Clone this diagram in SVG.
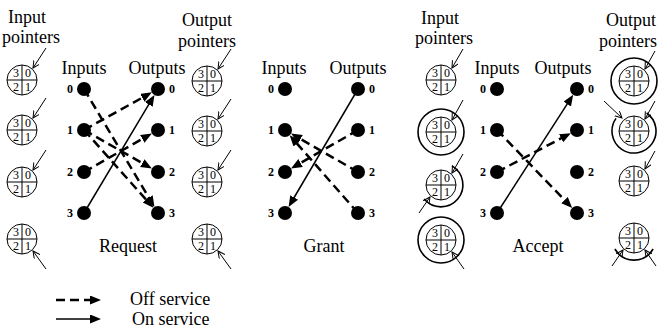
<svg xmlns="http://www.w3.org/2000/svg" width="658" height="334" viewBox="0 0 658 334">
<style>
.t{font-family:"Liberation Serif","Times New Roman",serif;font-size:18px;fill:#000}
.n{font-family:"Liberation Serif","Times New Roman",serif;font-size:12px;font-weight:bold;fill:#000}
.d{font-family:"Liberation Serif","Times New Roman",serif;font-size:12px;fill:#000}
.pc{fill:#fff;stroke:#000;stroke-width:1}
.x{stroke:#000;stroke-width:1}
.ring{fill:none;stroke:#000;stroke-width:1.6}
.dash{stroke:#000;stroke-width:2.5;stroke-dasharray:9 5;fill:none;marker-end:url(#ah)}
.solid{stroke:#000;stroke-width:1.5;fill:none;marker-end:url(#ah)}
.ptr{stroke:#000;stroke-width:1;fill:none;marker-end:url(#oa)}
.node{fill:#000}
</style>
<defs>
<marker id="ah" markerUnits="userSpaceOnUse" markerWidth="12" markerHeight="10" refX="7" refY="4.5" orient="auto"><path d="M0,0 L11,4.5 L0,9 z" fill="#000"/></marker>
<marker id="oa" markerUnits="userSpaceOnUse" markerWidth="10" markerHeight="8" refX="7" refY="3.5" orient="auto"><path d="M0,0 L7,3.5 L0,7" fill="none" stroke="#000" stroke-width="1"/></marker>
</defs>

<g id="labels">
<text class="t" x="27" y="23" text-anchor="middle">Input</text>
<text class="t" x="31" y="43" text-anchor="middle">pointers</text>
<text class="t" x="207" y="26" text-anchor="middle">Output</text>
<text class="t" x="207" y="47" text-anchor="middle">pointers</text>
<text class="t" x="84" y="74" text-anchor="middle">Inputs</text>
<text class="t" x="157" y="74" text-anchor="middle">Outputs</text>
<text class="t" x="128" y="252" text-anchor="middle">Request</text>
<text class="t" x="284" y="74" text-anchor="middle">Inputs</text>
<text class="t" x="358" y="74" text-anchor="middle">Outputs</text>
<text class="t" x="324" y="252" text-anchor="middle">Grant</text>
<text class="t" x="440" y="24" text-anchor="middle">Input</text>
<text class="t" x="444" y="44" text-anchor="middle">pointers</text>
<text class="t" x="606" y="26">Output</text>
<text class="t" x="599" y="47">pointers</text>
<text class="t" x="497" y="74" text-anchor="middle">Inputs</text>
<text class="t" x="563" y="74" text-anchor="middle">Outputs</text>
<text class="t" x="538" y="252" text-anchor="middle">Accept</text>
</g>

<g id="connectors">
<line class="dash" x1="84" y1="89" x2="152.4" y2="203.6"/>
<line class="dash" x1="84" y1="130" x2="148.4" y2="94.3"/>
<line class="dash" x1="84" y1="130" x2="148.4" y2="166.6"/>
<line class="dash" x1="84" y1="130" x2="150.7" y2="204.8"/>
<line class="dash" x1="84" y1="172" x2="148.4" y2="135.4"/>
<line class="solid" x1="84" y1="213" x2="152.4" y2="98.4"/>

<line class="solid" x1="358" y1="89" x2="290.6" y2="203.5"/>
<line class="dash" x1="358" y1="130" x2="294.5" y2="166.5"/>
<line class="dash" x1="358" y1="172" x2="294.5" y2="135.5"/>
<line class="dash" x1="358" y1="213" x2="292.3" y2="138.3"/>

<line class="dash" x1="497" y1="130" x2="569.4" y2="205.1"/>
<line class="dash" x1="497" y1="172" x2="567.3" y2="135.1"/>
<line class="solid" x1="497" y1="213" x2="571.0" y2="98.2"/>
</g>

<g id="req-in0"><circle class="node" cx="84" cy="89" r="7"/><text class="n" x="70" y="93" text-anchor="middle">0</text></g>
<g id="req-in1"><circle class="node" cx="84" cy="130" r="7"/><text class="n" x="70" y="134" text-anchor="middle">1</text></g>
<g id="req-in2"><circle class="node" cx="84" cy="172" r="7"/><text class="n" x="70" y="176" text-anchor="middle">2</text></g>
<g id="req-in3"><circle class="node" cx="84" cy="213" r="7"/><text class="n" x="70" y="217" text-anchor="middle">3</text></g>
<g id="req-out0"><circle class="node" cx="158" cy="89" r="7"/><text class="n" x="172" y="93" text-anchor="middle">0</text></g>
<g id="req-out1"><circle class="node" cx="158" cy="130" r="7"/><text class="n" x="172" y="134" text-anchor="middle">1</text></g>
<g id="req-out2"><circle class="node" cx="158" cy="172" r="7"/><text class="n" x="172" y="176" text-anchor="middle">2</text></g>
<g id="req-out3"><circle class="node" cx="158" cy="213" r="7"/><text class="n" x="172" y="217" text-anchor="middle">3</text></g>

<g id="gr-in0"><circle class="node" cx="285" cy="89" r="7"/><text class="n" x="271" y="93" text-anchor="middle">0</text></g>
<g id="gr-in1"><circle class="node" cx="285" cy="130" r="7"/><text class="n" x="271" y="134" text-anchor="middle">1</text></g>
<g id="gr-in2"><circle class="node" cx="285" cy="172" r="7"/><text class="n" x="271" y="176" text-anchor="middle">2</text></g>
<g id="gr-in3"><circle class="node" cx="285" cy="213" r="7"/><text class="n" x="271" y="217" text-anchor="middle">3</text></g>
<g id="gr-out0"><circle class="node" cx="358" cy="89" r="7"/><text class="n" x="372" y="93" text-anchor="middle">0</text></g>
<g id="gr-out1"><circle class="node" cx="358" cy="130" r="7"/><text class="n" x="372" y="134" text-anchor="middle">1</text></g>
<g id="gr-out2"><circle class="node" cx="358" cy="172" r="7"/><text class="n" x="372" y="176" text-anchor="middle">2</text></g>
<g id="gr-out3"><circle class="node" cx="358" cy="213" r="7"/><text class="n" x="372" y="217" text-anchor="middle">3</text></g>

<g id="ac-in0"><circle class="node" cx="497" cy="89" r="7"/><text class="n" x="483" y="93" text-anchor="middle">0</text></g>
<g id="ac-in1"><circle class="node" cx="497" cy="130" r="7"/><text class="n" x="483" y="134" text-anchor="middle">1</text></g>
<g id="ac-in2"><circle class="node" cx="497" cy="172" r="7"/><text class="n" x="483" y="176" text-anchor="middle">2</text></g>
<g id="ac-in3"><circle class="node" cx="497" cy="213" r="7"/><text class="n" x="483" y="217" text-anchor="middle">3</text></g>
<g id="ac-out0"><circle class="node" cx="577" cy="89" r="7"/><text class="n" x="591" y="93" text-anchor="middle">0</text></g>
<g id="ac-out1"><circle class="node" cx="577" cy="130" r="7"/><text class="n" x="591" y="134" text-anchor="middle">1</text></g>
<g id="ac-out2"><circle class="node" cx="577" cy="172" r="7"/><text class="n" x="591" y="176" text-anchor="middle">2</text></g>
<g id="ac-out3"><circle class="node" cx="577" cy="213" r="7"/><text class="n" x="591" y="217" text-anchor="middle">3</text></g>

<g id="rq-ip0" transform="translate(22,80)"><circle class="pc" r="15"/><line class="x" x1="-15" y1="0" x2="15" y2="0"/><line class="x" x1="0" y1="-15" x2="0" y2="15"/><text class="d" x="-6" y="-3" text-anchor="middle">3</text><text class="d" x="6" y="-3" text-anchor="middle">0</text><text class="d" x="-6" y="11" text-anchor="middle">2</text><text class="d" x="6" y="11" text-anchor="middle">1</text><line class="ptr" x1="24" y1="-32" x2="11" y2="-12"/></g>
<g id="rq-ip1" transform="translate(22,130)"><circle class="pc" r="15"/><line class="x" x1="-15" y1="0" x2="15" y2="0"/><line class="x" x1="0" y1="-15" x2="0" y2="15"/><text class="d" x="-6" y="-3" text-anchor="middle">3</text><text class="d" x="6" y="-3" text-anchor="middle">0</text><text class="d" x="-6" y="11" text-anchor="middle">2</text><text class="d" x="6" y="11" text-anchor="middle">1</text><line class="ptr" x1="24" y1="-32" x2="11" y2="-12"/></g>
<g id="rq-ip2" transform="translate(22,182)"><circle class="pc" r="15"/><line class="x" x1="-15" y1="0" x2="15" y2="0"/><line class="x" x1="0" y1="-15" x2="0" y2="15"/><text class="d" x="-6" y="-3" text-anchor="middle">3</text><text class="d" x="6" y="-3" text-anchor="middle">0</text><text class="d" x="-6" y="11" text-anchor="middle">2</text><text class="d" x="6" y="11" text-anchor="middle">1</text><line class="ptr" x1="24" y1="-32" x2="11" y2="-12"/></g>
<g id="rq-ip3" transform="translate(22,239)"><circle class="pc" r="15"/><line class="x" x1="-15" y1="0" x2="15" y2="0"/><line class="x" x1="0" y1="-15" x2="0" y2="15"/><text class="d" x="-6" y="-3" text-anchor="middle">3</text><text class="d" x="6" y="-3" text-anchor="middle">0</text><text class="d" x="-6" y="11" text-anchor="middle">2</text><text class="d" x="6" y="11" text-anchor="middle">1</text><line class="ptr" x1="24" y1="30" x2="11" y2="12"/></g>

<g id="rq-op0" transform="translate(207,81)"><circle class="pc" r="15"/><line class="x" x1="-15" y1="0" x2="15" y2="0"/><line class="x" x1="0" y1="-15" x2="0" y2="15"/><text class="d" x="-6" y="-3" text-anchor="middle">3</text><text class="d" x="6" y="-3" text-anchor="middle">0</text><text class="d" x="-6" y="11" text-anchor="middle">2</text><text class="d" x="6" y="11" text-anchor="middle">1</text><line class="ptr" x1="24" y1="-32" x2="11" y2="-12"/></g>
<g id="rq-op1" transform="translate(207,131)"><circle class="pc" r="15"/><line class="x" x1="-15" y1="0" x2="15" y2="0"/><line class="x" x1="0" y1="-15" x2="0" y2="15"/><text class="d" x="-6" y="-3" text-anchor="middle">3</text><text class="d" x="6" y="-3" text-anchor="middle">0</text><text class="d" x="-6" y="11" text-anchor="middle">2</text><text class="d" x="6" y="11" text-anchor="middle">1</text><line class="ptr" x1="24" y1="-32" x2="11" y2="-12"/></g>
<g id="rq-op2" transform="translate(207,182)"><circle class="pc" r="15"/><line class="x" x1="-15" y1="0" x2="15" y2="0"/><line class="x" x1="0" y1="-15" x2="0" y2="15"/><text class="d" x="-6" y="-3" text-anchor="middle">3</text><text class="d" x="6" y="-3" text-anchor="middle">0</text><text class="d" x="-6" y="11" text-anchor="middle">2</text><text class="d" x="6" y="11" text-anchor="middle">1</text><line class="ptr" x1="24" y1="-32" x2="11" y2="-12"/></g>
<g id="rq-op3" transform="translate(207,239)"><circle class="pc" r="15"/><line class="x" x1="-15" y1="0" x2="15" y2="0"/><line class="x" x1="0" y1="-15" x2="0" y2="15"/><text class="d" x="-6" y="-3" text-anchor="middle">3</text><text class="d" x="6" y="-3" text-anchor="middle">0</text><text class="d" x="-6" y="11" text-anchor="middle">2</text><text class="d" x="6" y="11" text-anchor="middle">1</text><line class="ptr" x1="24" y1="30" x2="11" y2="12"/></g>

<g id="ac-ip0" transform="translate(441,80)"><circle class="pc" r="15"/><line class="x" x1="-15" y1="0" x2="15" y2="0"/><line class="x" x1="0" y1="-15" x2="0" y2="15"/><text class="d" x="-6" y="-3" text-anchor="middle">3</text><text class="d" x="6" y="-3" text-anchor="middle">0</text><text class="d" x="-6" y="11" text-anchor="middle">2</text><text class="d" x="6" y="11" text-anchor="middle">1</text><line class="ptr" x1="22" y1="-31" x2="11" y2="-12"/></g>
<g id="ac-ip1" transform="translate(441,132)"><circle class="ring" r="23"/><circle class="pc" r="15"/><line class="x" x1="-15" y1="0" x2="15" y2="0"/><line class="x" x1="0" y1="-15" x2="0" y2="15"/><text class="d" x="-6" y="-3" text-anchor="middle">3</text><text class="d" x="6" y="-3" text-anchor="middle">0</text><text class="d" x="-6" y="11" text-anchor="middle">2</text><text class="d" x="6" y="11" text-anchor="middle">1</text><line class="ptr" x1="22" y1="-32" x2="11" y2="-12"/></g>
<g id="ac-ip2" transform="translate(441,185)"><path class="ring" d="M11,-19.1 A22,22 0 1 1 -16.9,14.1"/><circle class="pc" r="15"/><line class="x" x1="-15" y1="0" x2="15" y2="0"/><line class="x" x1="0" y1="-15" x2="0" y2="15"/><text class="d" x="-6" y="-3" text-anchor="middle">3</text><text class="d" x="6" y="-3" text-anchor="middle">0</text><text class="d" x="-6" y="11" text-anchor="middle">2</text><text class="d" x="6" y="11" text-anchor="middle">1</text><line class="ptr" x1="22" y1="-31" x2="11" y2="-12"/><line class="ptr" x1="-22" y1="28" x2="-11" y2="12"/></g>
<g id="ac-ip3" transform="translate(441,240)"><circle class="ring" r="23"/><circle class="pc" r="15"/><line class="x" x1="-15" y1="0" x2="15" y2="0"/><line class="x" x1="0" y1="-15" x2="0" y2="15"/><text class="d" x="-6" y="-3" text-anchor="middle">3</text><text class="d" x="6" y="-3" text-anchor="middle">0</text><text class="d" x="-6" y="11" text-anchor="middle">2</text><text class="d" x="6" y="11" text-anchor="middle">1</text><line class="ptr" x1="23" y1="29" x2="11" y2="12"/></g>

<g id="ac-op0" transform="translate(634,81)"><circle class="ring" r="23"/><circle class="pc" r="15"/><line class="x" x1="-15" y1="0" x2="15" y2="0"/><line class="x" x1="0" y1="-15" x2="0" y2="15"/><text class="d" x="-6" y="-3" text-anchor="middle">3</text><text class="d" x="6" y="-3" text-anchor="middle">0</text><text class="d" x="-6" y="11" text-anchor="middle">2</text><text class="d" x="6" y="11" text-anchor="middle">1</text><line class="ptr" x1="21" y1="-30" x2="11" y2="-12"/></g>
<g id="ac-op1" transform="translate(634,131)"><path class="ring" d="M12.6,-18 A22,22 0 1 1 -18,-12.6"/><circle class="pc" r="15"/><line class="x" x1="-15" y1="0" x2="15" y2="0"/><line class="x" x1="0" y1="-15" x2="0" y2="15"/><text class="d" x="-6" y="-3" text-anchor="middle">3</text><text class="d" x="6" y="-3" text-anchor="middle">0</text><text class="d" x="-6" y="11" text-anchor="middle">2</text><text class="d" x="6" y="11" text-anchor="middle">1</text><line class="ptr" x1="21" y1="-30" x2="11" y2="-12"/><line class="ptr" x1="-30" y1="-30" x2="-12" y2="-13"/></g>
<g id="ac-op2" transform="translate(634,181)"><circle class="pc" r="15"/><line class="x" x1="-15" y1="0" x2="15" y2="0"/><line class="x" x1="0" y1="-15" x2="0" y2="15"/><text class="d" x="-6" y="-3" text-anchor="middle">3</text><text class="d" x="6" y="-3" text-anchor="middle">0</text><text class="d" x="-6" y="11" text-anchor="middle">2</text><text class="d" x="6" y="11" text-anchor="middle">1</text><line class="ptr" x1="21" y1="-30" x2="11" y2="-12"/></g>
<g id="ac-op3" transform="translate(634,238)"><path class="ring" d="M19.1,11 A22,22 0 0 1 -19.1,11"/><circle class="pc" r="15"/><line class="x" x1="-15" y1="0" x2="15" y2="0"/><line class="x" x1="0" y1="-15" x2="0" y2="15"/><text class="d" x="-6" y="-3" text-anchor="middle">3</text><text class="d" x="6" y="-3" text-anchor="middle">0</text><text class="d" x="-6" y="11" text-anchor="middle">2</text><text class="d" x="6" y="11" text-anchor="middle">1</text><line class="ptr" x1="22" y1="28" x2="11" y2="12"/><line class="ptr" x1="-22" y1="28" x2="-11" y2="12"/></g>

<g id="legend">
<line class="dash" x1="56" y1="300" x2="97" y2="300"/>
<text class="t" x="130" y="305">Off service</text>
<line class="solid" x1="56" y1="319" x2="97" y2="319"/>
<text class="t" x="132" y="325">On service</text>
</g>
</svg>
